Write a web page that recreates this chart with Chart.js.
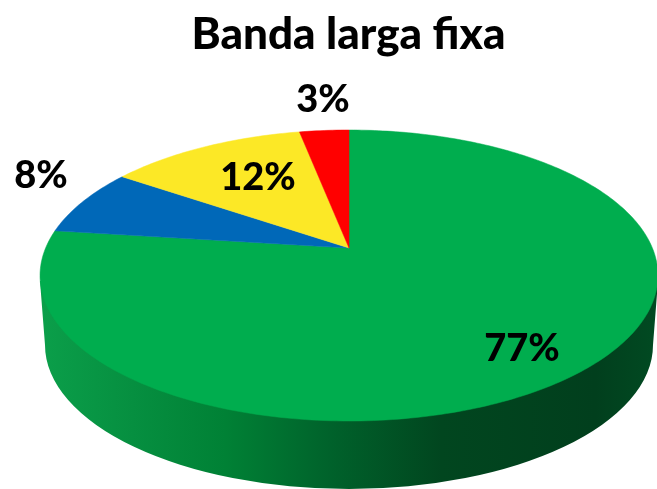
<!DOCTYPE html>
<html>
<head>
<meta charset="utf-8">
<title>Banda larga fixa</title>
<script src="https://cdn.jsdelivr.net/npm/chart.js@4/dist/chart.umd.min.js"></script>
<style>
    html, body { margin: 0; padding: 0; background: #fff; }
    #wrap { width: 657px; height: 489px; }
</style>
</head>
<body>
<div id="wrap"><canvas id="pieChart"></canvas></div>
<script>
const chartTitle = 'Banda larga fixa';
const categories = ['Verde', 'Azul', 'Amarelo', 'Vermelho'];
// labels round these, the slice edges show a bit more than the whole number
const shares = [77, 7.5, 12.4, 3.1];
const sliceColors = ['#00AD4E', '#0068B8', '#FCE826', '#FF0000'];

// tilted disc, the far side is squeezed a bit like the original 3D pie
const disc = { x: 349, y: 248, a: 303.4, b: 140.3, p: 0.189 };
const wall = { cy: 345, rx: 304, ry: 144, top: 275, rxTop: 309, ryTop: 145.5 };
const labelSpots = [[522, 349], [41, 176], [258, 178], [323, 100]];

function project(angle, r) {
    const u = Math.cos(angle) * r;
    const v = Math.sin(angle) * r;
    const w = 1 - disc.p * v;
    return [disc.x + disc.a * u / w, disc.y + disc.b * v / w];
}

function drawWall(ctx) {
    const grad = ctx.createLinearGradient(40, 0, 657, 0);
    grad.addColorStop(0, '#0B9F4A');
    grad.addColorStop(0.15, '#068F40');
    grad.addColorStop(0.3, '#008135');
    grad.addColorStop(0.47, '#00622B');
    grad.addColorStop(0.65, '#01461F');
    grad.addColorStop(0.9, '#013F1D');
    grad.addColorStop(1, '#014A22');

    ctx.beginPath();
    ctx.moveTo(disc.x - wall.rxTop, wall.top + 6);
    ctx.lineTo(disc.x - wall.rx, wall.cy);
    ctx.ellipse(disc.x, wall.cy, wall.rx, wall.ry, 0, Math.PI, 0, true);
    ctx.lineTo(disc.x + wall.rxTop, wall.top + 6);
    ctx.closePath();
    ctx.fillStyle = grad;
    ctx.fill();
}

const tiltedPie = {
    id: 'tiltedPie',
    beforeDatasetsDraw(chart) {
        const ctx = chart.ctx;
        const arcs = chart.getDatasetMeta(0).data;
        ctx.save();
        drawWall(ctx);

        arcs.forEach(function(arc) {
            const steps = Math.max(4, Math.ceil((arc.endAngle - arc.startAngle) * 60));
            ctx.beginPath();
            ctx.moveTo(disc.x, disc.y);
            for (let i = 0; i <= steps; i++) {
                const t = arc.startAngle + (arc.endAngle - arc.startAngle) * i / steps;
                const pt = project(t, 1);
                ctx.lineTo(pt[0], pt[1]);
            }
            ctx.closePath();
            ctx.fillStyle = arc.options.backgroundColor;
            ctx.strokeStyle = arc.options.backgroundColor;
            ctx.lineWidth = 0.5;
            ctx.fill();
            ctx.stroke();
        });

        ctx.fillStyle = '#000';
        ctx.font = '900 38px Lato, sans-serif';
        ctx.textAlign = 'center';
        ctx.textBaseline = 'middle';
        shares.forEach(function(v, i) {
            ctx.fillText(Math.round(v) + '%', labelSpots[i][0], labelSpots[i][1]);
        });
        ctx.restore();
        return false;
    }
};

new Chart(document.getElementById('pieChart'), {
    type: 'pie',
    data: {
        labels: categories,
        datasets: [{
            data: shares,
            backgroundColor: sliceColors,
            borderWidth: 0
        }]
    },
    options: {
        responsive: true,
        maintainAspectRatio: false,
        animation: false,
        layout: { padding: { left: 40 } },
        plugins: {
            legend: { display: false },
            tooltip: { enabled: false },
            title: {
                display: true,
                text: chartTitle,
                color: '#000',
                font: { family: 'Lato, sans-serif', size: 44, weight: '900' },
                padding: { top: 8, bottom: 10 }
            }
        }
    },
    plugins: [tiltedPie]
});
</script>
</body>
</html>
